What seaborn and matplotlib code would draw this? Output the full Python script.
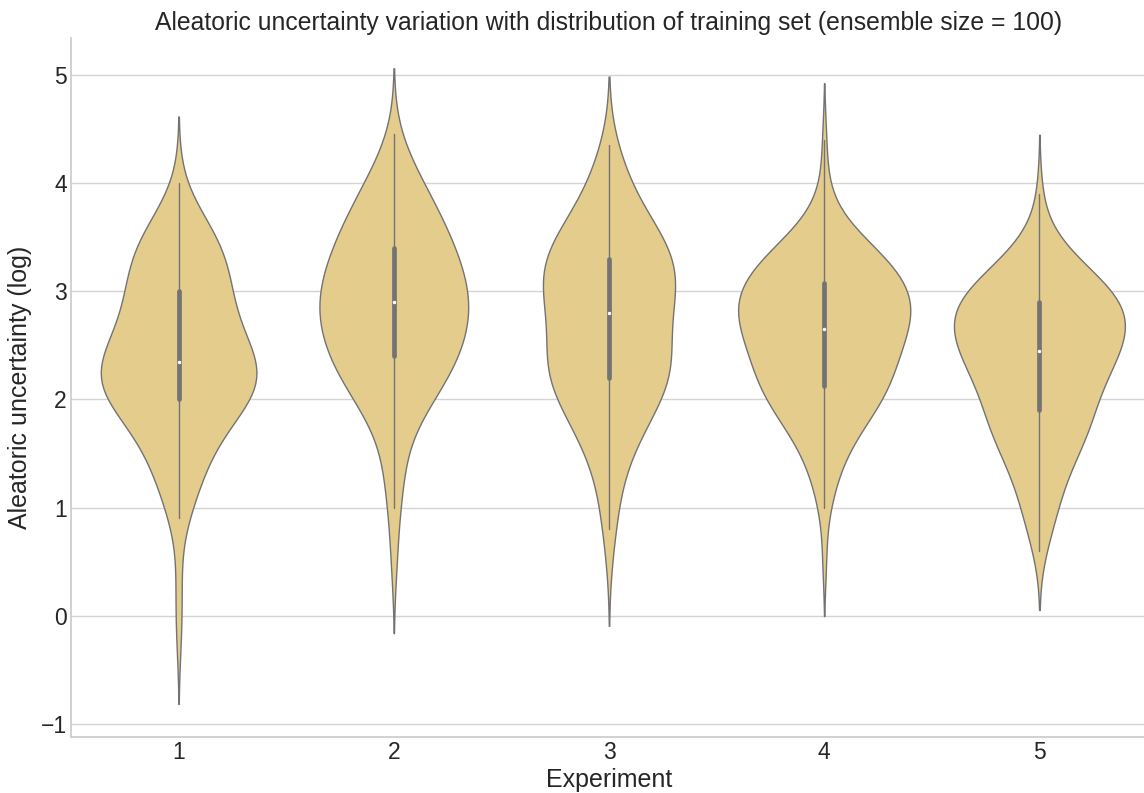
import numpy as np
import pandas as pd
import matplotlib
matplotlib.use("Agg")
import matplotlib.pyplot as plt
import seaborn as sns

# Experiment labels on the x axis
experiments = ["1", "2", "3", "4", "5"]

# Log aleatoric uncertainty per experiment, as value levels with their counts
exp1_levels = [-0.2, 0.1, 0.4, 0.9, 1.0, 1.1, 1.2, 1.3, 1.4, 1.5, 1.6, 1.7, 1.8, 1.9,
               2.0, 2.1, 2.2, 2.3, 2.4, 2.5, 2.6, 2.7, 2.8, 2.9, 3.0, 3.1, 3.2, 3.3,
               3.4, 3.5, 3.6, 3.7, 3.8, 4.0]
exp1_counts = [1, 1, 1, 1, 2, 2, 2, 2, 3, 3, 4, 4, 5, 5,
               9, 10, 10, 10, 7, 7, 6, 6, 5, 5, 6, 5, 5, 5,
               5, 5, 4, 2, 1, 1]

exp2_levels = [0.45, 0.7, 1.0, 1.1, 1.2, 1.3, 1.4, 1.5, 1.6, 1.7, 1.8, 1.9, 2.0,
               2.1, 2.2, 2.3, 2.4, 2.5, 2.6, 2.7, 2.8, 2.9, 3.0, 3.1, 3.2, 3.3,
               3.4, 3.5, 3.6, 3.7, 3.8, 3.9, 4.0, 4.1, 4.2, 4.3, 4.45]
exp2_counts = [1, 1, 1, 1, 1, 1, 1, 1, 1, 2, 2, 3, 4,
               5, 6, 6, 7, 7, 7, 8, 8, 8, 8, 7, 7, 7,
               6, 6, 5, 5, 4, 4, 3, 2, 2, 1, 1]

exp3_levels = [0.54, 0.8, 0.9, 1.0, 1.1, 1.2, 1.3, 1.4, 1.5, 1.6, 1.7, 1.8, 1.9,
               2.0, 2.1, 2.2, 2.3, 2.4, 2.5, 2.6, 2.7, 2.8, 2.9, 3.0, 3.1, 3.2,
               3.3, 3.4, 3.5, 3.6, 3.7, 3.8, 3.9, 4.0, 4.1, 4.2, 4.3, 4.35]
exp3_counts = [1, 1, 1, 1, 1, 1, 1, 2, 2, 3, 3, 4, 5,
               5, 6, 7, 8, 7, 6, 5, 4, 7, 7, 7, 7, 7,
               8, 7, 6, 4, 4, 3, 2, 2, 2, 1, 1, 1]

exp4_levels = [0.52, 1.0, 1.1, 1.2, 1.3, 1.4, 1.5, 1.6, 1.7, 1.8, 1.9, 2.0, 2.1,
               2.2, 2.3, 2.4, 2.5, 2.6, 2.7, 2.8, 2.9, 3.0, 3.1, 3.2, 3.3, 3.4,
               3.5, 3.6, 3.7, 3.8, 4.0, 4.4]
exp4_counts = [1, 1, 1, 1, 1, 2, 2, 3, 3, 4, 6, 6, 7,
               7, 7, 7, 8, 8, 9, 9, 10, 9, 8, 8, 7, 5,
               4, 2, 1, 1, 1, 1]

exp5_levels = [0.6, 0.7, 0.8, 0.9, 1.0, 1.1, 1.2, 1.3, 1.4, 1.5, 1.6, 1.7, 1.8,
               1.9, 2.0, 2.1, 2.2, 2.3, 2.4, 2.5, 2.6, 2.7, 2.8, 2.9, 3.0, 3.1,
               3.2, 3.3, 3.4, 3.5, 3.6, 3.9]
exp5_counts = [1, 1, 1, 2, 2, 2, 2, 3, 3, 4, 4, 6, 6,
               5, 5, 6, 7, 7, 8, 9, 9, 9, 9, 11, 8, 6,
               5, 4, 2, 1, 1, 1]

all_levels = [exp1_levels, exp2_levels, exp3_levels, exp4_levels, exp5_levels]
all_counts = [exp1_counts, exp2_counts, exp3_counts, exp4_counts, exp5_counts]

frames = []
for name, lv, ct in zip(experiments, all_levels, all_counts):
    frames.append(pd.DataFrame({"Experiment": name,
                                "uncertainty": np.repeat(lv, ct)}))
df = pd.concat(frames, ignore_index=True)

sns.set_theme(style="whitegrid", font_scale=1.5)
plt.rcParams["font.family"] = ["Liberation Sans", "DejaVu Sans"]
plt.rcParams["axes.edgecolor"] = "#cccccc"
plt.rcParams["grid.color"] = "#d4d4d4"

fig = plt.figure(figsize=(11.44, 7.93), dpi=100)
ax = fig.add_axes([71 / 1144, 56 / 793, 1076 / 1144, 699 / 793])

sns.violinplot(data=df, x="Experiment", y="uncertainty", order=experiments,
               color="#e4cc8c", saturation=1, linecolor="#737373",
               linewidth=1.0, inner="box", bw_adjust=1.1,
               inner_kws=dict(box_width=3.4, whis_width=1.0, marker="o",
                              markersize=1.8),
               ax=ax)

sns.despine(ax=ax)
ax.set_xlim(-0.5, 4.5)
ax.set_ylim(-1.12, 5.34)
ax.set_title("Aleatoric uncertainty variation with distribution of training set "
             "(ensemble size = 100)", fontsize=17.8)
ax.set_xlabel("Experiment", fontsize=18, labelpad=3)
ax.set_ylabel("Aleatoric uncertainty (log)", fontsize=18, labelpad=6)
ax.tick_params(labelsize=16.5, length=0, pad=3)

fig.savefig("out.png", dpi=100)
